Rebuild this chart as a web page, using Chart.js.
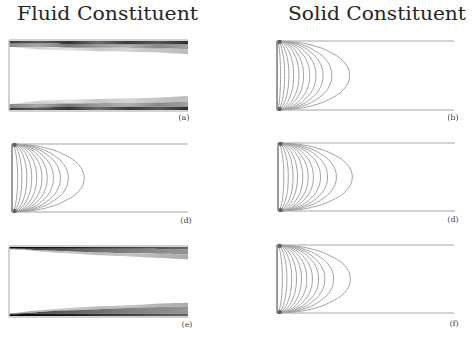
<!DOCTYPE html>
<html>
<head>
<meta charset="utf-8">
<script src="https://cdn.jsdelivr.net/npm/chart.js@4/dist/chart.umd.min.js"></script>
<style>
  html,body{margin:0;padding:0;background:#fff;}
  body{width:476px;height:338px;position:relative;overflow:hidden;}
  .pane{position:absolute;}
  .title{position:absolute;font-family:"DejaVu Serif",serif;font-size:18px;line-height:18px;color:#262626;white-space:nowrap;transform-origin:0 0;}
  .lab{position:absolute;font-family:"DejaVu Serif",serif;font-size:8px;line-height:8px;color:#444;transform:translate(-50%,-50%);white-space:nowrap;}
</style>
</head>
<body>
<script>
// ---------- data ----------
const columnTitles = ["Fluid Constituent", "Solid Constituent"];
const panelLabels = ["(a)", "(b)", "(d)", "(d)", "(e)", "(f)"];

// x positions (fraction of channel length) where band boundaries were read
const bandX = [0, 0.05, 0.15, 0.3, 0.5, 0.7, 0.85, 1];

// panel (a): boundaries of the grey bands near the top wall (y=1) and bottom wall (y=0)
const aTop1 = [0.95, 0.95, 0.95, 0.945, 0.945, 0.94, 0.94, 0.94];
const aTop2 = [0.90, 0.90, 0.90, 0.895, 0.89, 0.885, 0.88, 0.87];
const aTop3 = [0.90, 0.89, 0.87, 0.855, 0.84, 0.83, 0.82, 0.80];
const aBot1 = [0.05, 0.05, 0.05, 0.055, 0.055, 0.06, 0.06, 0.06];
const aBot2 = [0.10, 0.10, 0.10, 0.105, 0.11, 0.115, 0.12, 0.13];
const aBot3 = [0.10, 0.11, 0.14, 0.16, 0.17, 0.18, 0.19, 0.21];

// panel (e)
const eTop1 = [0.965, 0.965, 0.96, 0.96, 0.96, 0.96, 0.955, 0.955];
const eTop2 = [0.96, 0.955, 0.945, 0.93, 0.91, 0.90, 0.89, 0.88];
const eTop3 = [0.955, 0.95, 0.93, 0.90, 0.87, 0.85, 0.83, 0.81];
const eBot1 = [0.04, 0.04, 0.045, 0.05, 0.05, 0.05, 0.05, 0.05];
const eBot2 = [0.045, 0.05, 0.065, 0.09, 0.11, 0.13, 0.14, 0.15];
const eBot3 = [0.05, 0.06, 0.09, 0.12, 0.15, 0.17, 0.19, 0.20];

// contour shape: relative x reach at each height
const profileY = [1, 0.98, 0.93, 0.85, 0.7, 0.5, 0.3, 0.15, 0.07, 0.02, 0];
const profileX = [0, 0.28, 0.51, 0.71, 0.92, 1, 0.92, 0.71, 0.51, 0.28, 0];

// contour tip positions (fraction of channel length)
const reachB  = [0.41, 0.31, 0.26, 0.22, 0.185, 0.15, 0.124, 0.094, 0.067, 0.043, 0.02];
const reachD1 = [0.41, 0.32, 0.275, 0.235, 0.20, 0.17, 0.14, 0.112, 0.084, 0.056, 0.032];
const reachD2 = [0.42, 0.33, 0.28, 0.24, 0.20, 0.17, 0.14, 0.11, 0.085, 0.058, 0.033];
const reachF  = [0.415, 0.32, 0.27, 0.235, 0.20, 0.168, 0.138, 0.11, 0.083, 0.056, 0.03];

// ---------- layout ----------
const PAD = 3;
const boxes = {
  a:  {x: 9,   y: 40,  w: 179, h: 71},
  b:  {x: 276, y: 40,  w: 179, h: 71},
  d1: {x: 11,  y: 143, w: 178, h: 70},
  d2: {x: 277, y: 142, w: 179, h: 70},
  e:  {x: 9,   y: 246, w: 179, h: 71},
  f:  {x: 276, y: 244, w: 179, h: 70}
};
const labelPos = [[184,118],[453,118],[186,221],[453,220],[187,325],[454,324]];

function pts(ys){ return bandX.map((x,i)=>({x:x, y:ys[i]})); }

function grad(stops){
  return function(ctx){
    const ch = ctx.chart; const ca = ch.chartArea;
    if(!ca) return stops[0];
    const g = ch.ctx.createLinearGradient(ca.left,0,ca.right,0);
    stops.forEach((c,i)=>g.addColorStop(i/(stops.length-1), c));
    return g;
  };
}

function wallSets(leftColor){
  const base = {type:'line', pointRadius:0, tension:0, fill:false, clip:false, order:2};
  return [
    Object.assign({}, base, {data:[{x:0,y:1},{x:1,y:1}], borderColor:'#d2d2d2', borderWidth:2}),
    Object.assign({}, base, {data:[{x:0,y:0},{x:1,y:0}], borderColor:'#d2d2d2', borderWidth:2}),
    Object.assign({}, base, {data:[{x:0,y:0},{x:0,y:1}], borderColor:leftColor, borderWidth:1.5})
  ];
}

function bandSets(top, bot, cols){
  const sets = [];
  const mk = (ys, fill, col) => ({type:'line', data:pts(ys), borderWidth:0, borderColor:'rgba(0,0,0,0)',
    pointRadius:0, tension:0.2, fill:fill, backgroundColor:grad(col), clip:false, order:5});
  sets.push(mk(top[0], {value:1}, cols[0]));
  sets.push(mk(top[1], 0, cols[1]));
  sets.push(mk(top[2], 1, cols[2]));
  sets.push(mk(bot[0], {value:0}, cols[0]));
  sets.push(mk(bot[1], 3, cols[1]));
  sets.push(mk(bot[2], 4, cols[2]));
  return sets;
}

function contourSets(reach){
  const sets = reach.map(r => ({
    type:'line', data: profileY.map((y,i)=>({x: r*profileX[i], y:y})),
    borderColor:'#a2a2a2', borderWidth:1, pointRadius:0, tension:0.4, fill:false, clip:false, order:1
  }));
  sets.push({type:'scatter', data:[{x:0.015,y:0.985},{x:0.015,y:0.015}], pointRadius:2.2,
    pointBorderWidth:0, backgroundColor:'rgba(50,50,50,0.6)', clip:false, order:0});
  return sets;
}

function makePanel(box, datasets){
  const c = document.createElement('canvas');
  c.className = 'pane';
  const W = box.w + 2*PAD, H = box.h + 2*PAD;
  c.width = W; c.height = H;
  c.style.left = (box.x - PAD) + 'px'; c.style.top = (box.y - PAD) + 'px';
  c.style.width = W + 'px'; c.style.height = H + 'px';
  document.body.appendChild(c);
  new Chart(c.getContext('2d'), {
    type:'scatter',
    data:{datasets:datasets},
    options:{
      responsive:false, animation:false, devicePixelRatio:1,
      layout:{padding:PAD},
      plugins:{legend:{display:false}, tooltip:{enabled:false}},
      events:[],
      scales:{
        x:{type:'linear', min:0, max:1, display:false},
        y:{type:'linear', min:0, max:1, display:false}
      }
    }
  });
}

const aCols = [
  ['#3c3c3c','#5a5a5a','#333','#6a6a6a','#3a3a3a','#555','#2e2e2e'],
  ['#8a8a8a','#a8a8a8','#777','#999','#b0b0b0','#888','#a0a0a0'],
  ['#dcdcdc','#cfcfcf','#e0e0e0','#c8c8c8','#d4d4d4','#c4c4c4','#bdbdbd']
];
const eCols = [
  ['#050505','#111','#1e1e1e','#333','#444','#555','#666'],
  ['#3a3a3a','#4a4a4a','#5e5e5e','#707070','#808080','#8a8a8a','#959595'],
  ['#9a9a9a','#b5b5b5','#c8c8c8','#bcbcbc','#c5c5c5','#b5b5b5','#acacac']
];

makePanel(boxes.a, bandSets([aTop1,aTop2,aTop3],[aBot1,aBot2,aBot3], aCols).concat(wallSets('#c4c4c4')));
makePanel(boxes.b, wallSets('#7a7a7a').concat(contourSets(reachB)));
makePanel(boxes.d1, wallSets('#7a7a7a').concat(contourSets(reachD1)));
makePanel(boxes.d2, wallSets('#7a7a7a').concat(contourSets(reachD2)));
makePanel(boxes.e, bandSets([eTop1,eTop2,eTop3],[eBot1,eBot2,eBot3], eCols).concat(wallSets('#c4c4c4')));
makePanel(boxes.f, wallSets('#7a7a7a').concat(contourSets(reachF)));

// titles
const titleBoxes = [[17, 181], [288, 178]];
columnTitles.forEach((t,i)=>{
  const d = document.createElement('div');
  d.className = 'title'; d.textContent = t;
  d.style.left = titleBoxes[i][0] + 'px'; d.style.top = '5px';
  document.body.appendChild(d);
  const w = d.getBoundingClientRect().width;
  d.style.transform = 'scaleX(' + (titleBoxes[i][1]/w) + ')';
});
panelLabels.forEach((t,i)=>{
  const d = document.createElement('div');
  d.className = 'lab'; d.textContent = t;
  d.style.left = labelPos[i][0] + 'px'; d.style.top = labelPos[i][1] + 'px';
  document.body.appendChild(d);
});
</script>
</body>
</html>
